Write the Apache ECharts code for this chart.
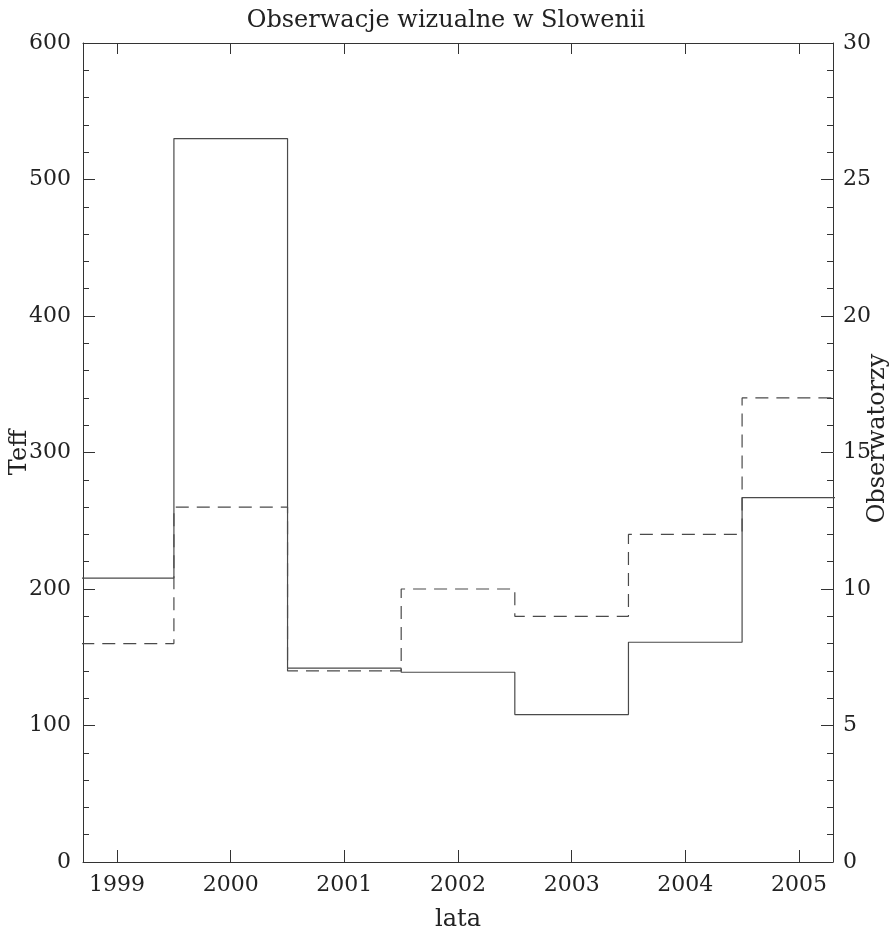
<!DOCTYPE html>
<html>
<head>
<meta charset="utf-8">
<script src="https://cdn.jsdelivr.net/npm/echarts@6/dist/echarts.min.js"></script>
<style>
  html, body { margin: 0; padding: 0; background: #fff; }
  #chart { width: 896px; height: 929px; }
</style>
</head>
<body>
<div id="chart"></div>
<script>
// lata i wartości
const years = [1999, 2000, 2001, 2002, 2003, 2004, 2005];
const teff = [208, 530, 142, 139, 108, 161, 267];
const observers = [8, 13, 7, 10, 9, 12, 17];

// histogram schodkowy: punkt na lewej krawędzi każdego przedziału + koniec ostatniego
const toSteps = (vals) => {
  const pts = years.map((y, i) => [y - 0.5, vals[i]]);
  pts.push([years[years.length - 1] + 0.5, vals[vals.length - 1]]);
  return pts;
};

const FONT = 'DejaVu Serif';
const AXIS_COLOR = '#333';
const LINE_COLOR = '#4a4a4a';

const chart = echarts.init(document.getElementById('chart'));

const option = {
  backgroundColor: '#fff',
  animation: false,
  title: {
    text: 'Obserwacje wizualne w Slowenii',
    left: 441,
    textAlign: 'center',
    top: 4,
    textStyle: { fontFamily: FONT, fontSize: 24, fontWeight: 'normal', color: '#222' }
  },
  grid: { left: 83, right: 63, top: 43, bottom: 67, outerBoundsMode: 'none', containLabel: false },
  xAxis: [
    {
      type: 'value',
      min: 1998.7,
      max: 2005.3,
      splitNumber: 6,
      minInterval: 1,
      name: 'lata',
      nameLocation: 'middle',
      nameGap: 46,
      nameMoveOverlap: false,
      nameTextStyle: { fontFamily: FONT, fontSize: 24, color: '#222' },
      axisLine: { onZero: false, lineStyle: { color: AXIS_COLOR, width: 1 } },
      axisTick: { inside: true, length: 12, lineStyle: { color: AXIS_COLOR } },
      axisLabel: {
        margin: 12,
        fontFamily: FONT, fontSize: 22, color: '#222',
        showMinLabel: false, showMaxLabel: false,
        formatter: (v) => (Number.isInteger(v) ? String(v) : '')
      },
      splitLine: { show: false }
    },
    {
      type: 'value',
      position: 'top',
      min: 1998.7,
      max: 2005.3,
      splitNumber: 6,
      minInterval: 1,
      axisLine: { onZero: false, lineStyle: { color: AXIS_COLOR, width: 1 } },
      axisTick: { inside: true, length: 11, lineStyle: { color: AXIS_COLOR } },
      axisLabel: { show: false },
      splitLine: { show: false }
    }
  ],
  yAxis: [
    {
      type: 'value',
      min: 0,
      max: 600,
      interval: 100,
      name: 'Teff',
      nameLocation: 'middle',
      nameGap: 51,
      nameMoveOverlap: false,
      nameTextStyle: { fontFamily: FONT, fontSize: 24, color: '#222' },
      axisLine: { show: true, onZero: false, lineStyle: { color: AXIS_COLOR, width: 1 } },
      axisTick: { show: true, inside: true, length: 12, lineStyle: { color: AXIS_COLOR } },
      minorTick: { show: true, splitNumber: 5, length: 6, lineStyle: { color: AXIS_COLOR } },
      axisLabel: { margin: 12, fontFamily: FONT, fontSize: 22, color: '#222' },
      splitLine: { show: false }
    },
    {
      type: 'value',
      position: 'right',
      min: 0,
      max: 30,
      interval: 5,
      name: 'Obserwatorzy',
      nameLocation: 'middle',
      nameGap: 33,
      nameRotate: 90,
      nameMoveOverlap: false,
      nameTextStyle: { fontFamily: FONT, fontSize: 24, color: '#222', padding: [0, 0, 0, 28] },
      axisLine: { show: true, onZero: false, lineStyle: { color: AXIS_COLOR, width: 1 } },
      axisTick: { show: true, inside: true, length: 12, lineStyle: { color: AXIS_COLOR } },
      minorTick: { show: true, splitNumber: 5, length: 6, lineStyle: { color: AXIS_COLOR } },
      axisLabel: { margin: 10, fontFamily: FONT, fontSize: 22, color: '#222' },
      splitLine: { show: false }
    }
  ],
  series: [
    {
      name: 'Teff',
      type: 'line',
      step: 'end',
      xAxisIndex: 0,
      yAxisIndex: 0,
      data: toSteps(teff),
      showSymbol: false,
      clip: true,
      lineStyle: { color: LINE_COLOR, width: 1.2 }
    },
    {
      name: 'Obserwatorzy',
      type: 'line',
      step: 'end',
      xAxisIndex: 0,
      yAxisIndex: 1,
      data: toSteps(observers),
      showSymbol: false,
      clip: true,
      lineStyle: { color: LINE_COLOR, width: 1.2, type: [13, 8] }
    }
  ]
};

chart.setOption(option);
</script>
</body>
</html>
